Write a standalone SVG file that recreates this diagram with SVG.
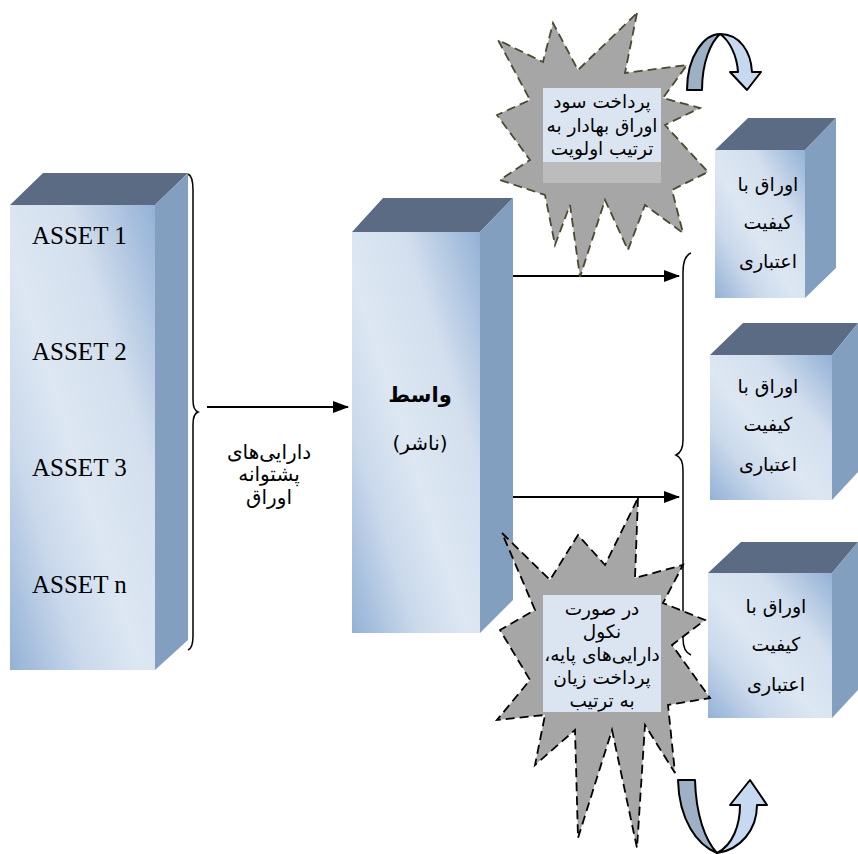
<svg xmlns="http://www.w3.org/2000/svg" width="858" height="854" viewBox="0 0 858 854">
<defs>
<linearGradient id="front" x1="1" y1="0" x2="0" y2="1">
<stop offset="0" stop-color="#93b1d6"/>
<stop offset="0.3" stop-color="#d3dfee"/>
<stop offset="0.55" stop-color="#dde7f3"/>
<stop offset="0.75" stop-color="#c9d8eb"/>
<stop offset="1" stop-color="#93b1d6"/>
</linearGradient>
<marker id="ah" markerWidth="16" markerHeight="12" refX="15" refY="6" orient="auto" markerUnits="userSpaceOnUse">
<path d="M0,0 L16,6 L0,12 Z" fill="#000"/>
</marker>
<style>
.top{fill:#5b6b83}
.side{fill:#839fbf}
.fr{fill:url(#front)}
.en{font-family:"Liberation Serif",serif;font-size:25px;fill:#000}
.fa{font-family:"DejaVu Sans","Noto Sans",sans-serif;font-size:20px;fill:#000;text-anchor:middle;direction:rtl;unicode-bidi:embed}
.bx{font-size:19px}
.st{font-size:18.5px}
.bold{font-weight:bold;font-size:21px}
.conn{stroke:#000;stroke-width:2;fill:none}
.brace{stroke:#000;stroke-width:1.5;fill:none}
.star{fill:#a6a6a6;stroke-width:1.8;stroke-dasharray:9,5}
.tb{fill:#dbe5f1}
.arrL{fill:#9eb0c6;stroke:#000;stroke-width:2;stroke-linejoin:round}
.arrR{fill:#c6d9f0;stroke:#000;stroke-width:2;stroke-linejoin:round}
</style>
</defs>

<g id="assets">
<polygon class="top" points="10,205 43,173 188,173 155,205"/>
<polygon class="side" points="155,205 188,173 188,640 155,670"/>
<rect class="fr" x="10" y="205" width="145" height="465"/>
<text class="en" x="32" y="244">ASSET 1</text>
<text class="en" x="32" y="360">ASSET 2</text>
<text class="en" x="32" y="476">ASSET 3</text>
<text class="en" x="32" y="593">ASSET n</text>
</g>

<g id="label-backing">
<text class="fa" x="269" y="459" direction="rtl">دارایی‌های</text>
<text class="fa" x="269" y="481" direction="rtl">پشتوانه</text>
<text class="fa" x="269" y="504" direction="rtl">اوراق</text>
</g>

<g id="issuer">
<polygon class="top" points="352,232 383,198 513,198 480,232"/>
<polygon class="side" points="480,232 513,198 513,600 480,633"/>
<rect class="fr" x="352" y="232" width="128" height="401"/>
<text class="fa bold" x="420" y="402" direction="rtl">واسط</text>
<text class="fa" x="420" y="450" direction="rtl">(ناشر)</text>
</g>

<g id="box1">
<polygon class="top" points="715,150 748,118 836,118 805,150"/>
<polygon class="side" points="805,150 836,118 836,268 805,298"/>
<rect class="fr" x="715" y="150" width="90" height="148"/>
<text class="fa bx" x="768" y="191" direction="rtl">اوراق با</text>
<text class="fa bx" x="768" y="229" direction="rtl">کیفیت</text>
<text class="fa bx" x="768" y="268" direction="rtl">اعتباری</text>
</g>

<g id="box2">
<polygon class="top" points="710,355 743,323 858,323 832,355"/>
<polygon class="side" points="832,355 858,323 858,472 832,500"/>
<rect class="fr" x="710" y="355" width="122" height="145"/>
<text class="fa bx" x="768" y="393" direction="rtl">اوراق با</text>
<text class="fa bx" x="768" y="431" direction="rtl">کیفیت</text>
<text class="fa bx" x="768" y="471" direction="rtl">اعتباری</text>
</g>

<g id="box3">
<polygon class="top" points="708,573 741,542 858,542 832,573"/>
<polygon class="side" points="832,573 858,542 858,690 832,718"/>
<rect class="fr" x="708" y="573" width="124" height="145"/>
<text class="fa bx" x="776" y="613" direction="rtl">اوراق با</text>
<text class="fa bx" x="776" y="651" direction="rtl">کیفیت</text>
<text class="fa bx" x="776" y="691" direction="rtl">اعتباری</text>
</g>

<g id="connectors">
<path class="brace" d="M188,174 Q193,176 193,190 L193,400 Q193,410 198,412 Q193,414 193,424 L193,636 Q193,648 188,650"/>
<path class="brace" d="M691,253 Q683,256 683,272 L683,440 Q683,452 676,455 Q683,458 683,470 L683,638 Q683,652 691,655"/>
<line class="conn" x1="207" y1="407" x2="348" y2="407" marker-end="url(#ah)"/>
<line class="conn" x1="513" y1="276" x2="679" y2="276" marker-end="url(#ah)"/>
<line class="conn" x1="513" y1="497" x2="679" y2="497" marker-end="url(#ah)"/>
</g>

<g id="star-top">
<polygon class="star" stroke="#4d4832" points="637,13 625,73 687,65 663,98 700,108 665,125 708,172 672,190 683,233 645,205 628,250 605,200 580,277 570,205 555,245 545,195 500,180 530,160 497,115 530,100 498,40 543,62 553,23 578,70"/>
<rect class="tb" x="543" y="88" width="118" height="74"/>
<rect x="543" y="162" width="118" height="21" fill="#bcbcbc"/>
<text class="fa st" x="602" y="108" direction="rtl">پرداخت سود</text>
<text class="fa st" x="602" y="132" direction="rtl">اوراق بهادار به</text>
<text class="fa st" x="602" y="155" direction="rtl">ترتیب اولویت</text>
</g>

<g id="star-bottom">
<polygon class="star" stroke="#000" points="638,498 635,578 683,565 663,603 705,620 672,645 710,698 668,705 675,773 645,725 637,848 612,730 578,838 575,730 535,765 545,715 497,720 530,680 500,630 535,610 502,533 550,580 578,535 605,565"/>
<rect class="tb" x="543" y="595" width="118" height="117"/>
<text class="fa st" x="602" y="615" direction="rtl">در صورت</text>
<text class="fa st" x="602" y="638" direction="rtl">نکول</text>
<text class="fa st" x="602" y="661" direction="rtl">دارایی‌های پایه،</text>
<text class="fa st" x="602" y="684" direction="rtl">پرداخت زیان</text>
<text class="fa st" x="602" y="707" direction="rtl">به ترتیب</text>
</g>

<g id="turn-top">
<path class="arrL" d="M687,90 C687,55 705,34 720,34 C711,42 702,62 702,90 Z"/>
<path class="arrR" d="M720,34 C740,34 751,52 752,72 L761,72 L747,90 L730,72 L738,72 C737,55 729,40 720,34 Z"/>
</g>

<g id="turn-bottom">
<path class="arrL" d="M678,780 L695,780 C696,815 705,840 717,853 C697,845 679,820 678,780 Z"/>
<path class="arrR" d="M717,853 C733,845 740,825 740,805 L730,805 L750,780 L767,805 L757,805 C757,830 740,850 717,853 Z"/>
</g>
</svg>
